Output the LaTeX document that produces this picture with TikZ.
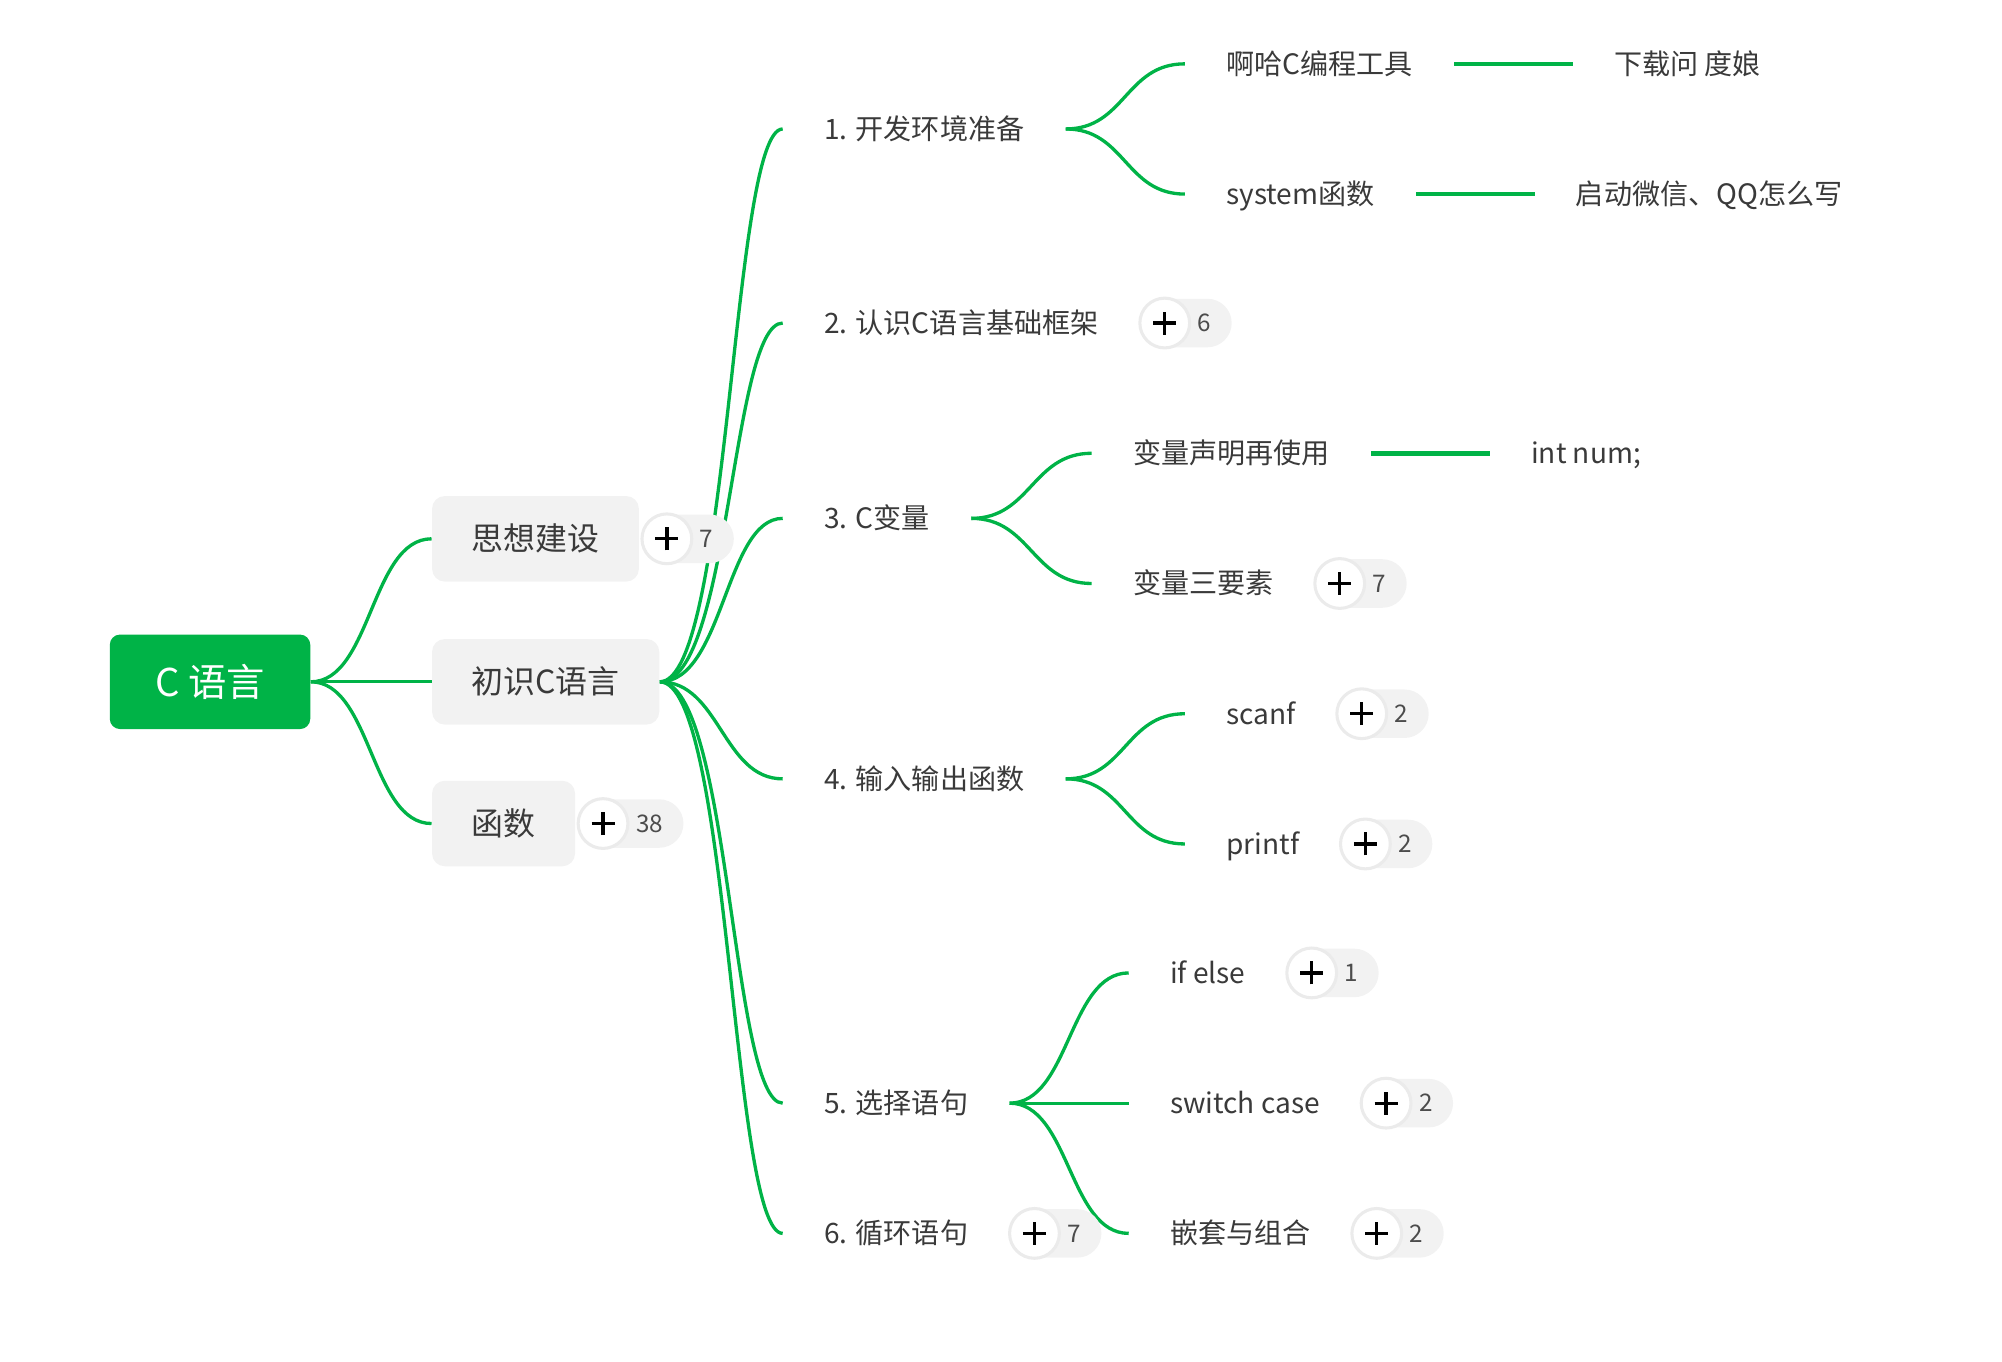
\documentclass[tikz,border=0pt]{standalone}
\usepackage{fontspec}
\setmainfont{Noto Sans CJK SC}
\usetikzlibrary{positioning,backgrounds}
\usepackage{xcolor}
\definecolor{mindgreen}{HTML}{00B347}
\definecolor{boxgray}{HTML}{F2F2F2}
\definecolor{textgray}{HTML}{3A3A3A}
\definecolor{ringgray}{HTML}{EBEBEB}

\begin{document}
\begin{tikzpicture}[x=0.5pt, y=-0.5pt, font=\fontsize{11pt}{13pt}\selectfont, text=textgray,
  root/.style={fill=mindgreen, text=white, rounded corners=4pt, minimum width=78.5pt,
               minimum height=37pt, font=\fontsize{15pt}{18pt}\selectfont},
  grp/.style={fill=boxgray, rounded corners=5pt, anchor=west, minimum height=33.5pt,
              inner xsep=15.5pt, font=\fontsize{12.5pt}{15pt}\selectfont},
  topic/.style={anchor=west, inner xsep=16pt, inner ysep=0pt, text height=9.6pt, text depth=1.4pt},
  badge/.style={fill=boxgray, rounded corners=9.5pt, minimum height=19pt, inner xsep=8pt,
                inner ysep=0pt, font=\fontsize{9.5pt}{11pt}\selectfont, text=black!70},
  plusdot/.style={circle, fill=white, draw=ringgray, line width=1.2pt, minimum size=19.5pt, inner sep=0pt,
                  path picture={\draw[black, line width=1.3pt]
                    ([xshift=-4.5pt]path picture bounding box.center) -- ([xshift=4.5pt]path picture bounding box.center)
                    ([yshift=-4.5pt]path picture bounding box.center) -- ([yshift=4.5pt]path picture bounding box.center);}},
  link/.style={draw=mindgreen, line width=1.3pt},
  hlink/.style={draw=mindgreen, line width=1.8pt}]

\useasboundingbox (0,0) rectangle (1568,1066);

% root and first level
\node[root] (root) at (164.5,534) {C 语言};
\node[grp] (sx) at (338,422) {思想建设};
\node[grp] (kc) at (338,534) {初识C语言};
\node[grp] (hs) at (338,645) {函数};

\node[badge, right=1pt of sx] (sxn) {\hspace{14.5pt}7};
\node[plusdot] (sxp) at ([xshift=9.75pt]sxn.west) {};
\node[badge, right=1pt of hs] (hsn) {\hspace{14.5pt}38};
\node[plusdot] (hsp) at ([xshift=9.75pt]hsn.west) {};

% second level
\node[topic] (t1) at (613,101) {1. 开发环境准备};
\node[topic] (t2) at (613,253) {2. 认识C语言基础框架};
\node[topic] (t3) at (613,406) {3. C变量};
\node[topic] (t4) at (613,610) {4. 输入输出函数};
\node[topic] (t5) at (613,864) {5. 选择语句};
\node[topic] (t6) at (613,966) {6. 循环语句};

\node[badge, right=0pt of t2] (t2n) {\hspace{14.5pt}6};
\node[plusdot] (t2p) at ([xshift=9.75pt]t2n.west) {};
\node[badge, right=0pt of t6] (t6n) {\hspace{14.5pt}7};
\node[plusdot] (t6p) at ([xshift=9.75pt]t6n.west) {};

% third level
\node[topic] (a1) at (928,50) {啊哈C编程工具};
\node[topic, right=46.5pt of a1] (a1x) {下载问 度娘};
\node[topic] (a2) at (928,152) {system函数};
\node[topic, right=46.5pt of a2] (a2x) {启动微信、QQ怎么写};

\node[topic] (c1) at (855,355) {变量声明再使用};
\node[topic, right=46.5pt of c1] (c1x) {int num;};
\node[topic] (c2) at (855,457) {变量三要素};
\node[badge, right=0pt of c2] (c2n) {\hspace{14.5pt}7};
\node[plusdot] (c2p) at ([xshift=9.75pt]c2n.west) {};

\node[topic] (d1) at (928,559) {scanf};
\node[badge, right=0pt of d1] (d1n) {\hspace{14.5pt}2};
\node[plusdot] (d1p) at ([xshift=9.75pt]d1n.west) {};
\node[topic] (d2) at (928,661) {printf};
\node[badge, right=0pt of d2] (d2n) {\hspace{14.5pt}2};
\node[plusdot] (d2p) at ([xshift=9.75pt]d2n.west) {};

\node[topic] (e1) at (884,762) {if else};
\node[badge, right=0pt of e1] (e1n) {\hspace{14.5pt}1};
\node[plusdot] (e1p) at ([xshift=9.75pt]e1n.west) {};
\node[topic] (e2) at (884,864) {switch case};
\node[badge, right=0pt of e2] (e2n) {\hspace{14.5pt}2};
\node[plusdot] (e2p) at ([xshift=9.75pt]e2n.west) {};
\node[topic] (e3) at (884,966) {嵌套与组合};
\node[badge, right=0pt of e3] (e3n) {\hspace{14.5pt}2};
\node[plusdot] (e3p) at ([xshift=9.75pt]e3n.west) {};

% links, behind the badges
\begin{scope}[on background layer]
\draw[link] (root.east) .. controls +(47.5,0) and +(-47.5,0) .. (sx.west);
\draw[link] (root.east) -- (kc.west);
\draw[link] (root.east) .. controls +(47.5,0) and +(-47.5,0) .. (hs.west);

\draw[link] (kc.east) .. controls +(55,0) and +(-40,0) .. (t1.west);
\draw[link] (kc.east) .. controls +(55,0) and +(-40,0) .. (t2.west);
\draw[link] (kc.east) .. controls +(50,0) and +(-45,0) .. (t3.west);
\draw[link] (kc.east) .. controls +(47,0) and +(-47,0) .. (t4.west);
\draw[link] (kc.east) .. controls +(55,0) and +(-40,0) .. (t5.west);
\draw[link] (kc.east) .. controls +(55,0) and +(-40,0) .. (t6.west);

\draw[link] (t1.east) .. controls +(46.5,0) and +(-46.5,0) .. (a1.west);
\draw[link] (t1.east) .. controls +(46.5,0) and +(-46.5,0) .. (a2.west);
\draw[link] (t3.east) .. controls +(46.5,0) and +(-46.5,0) .. (c1.west);
\draw[link] (t3.east) .. controls +(46.5,0) and +(-46.5,0) .. (c2.west);
\draw[link] (t4.east) .. controls +(46.5,0) and +(-46.5,0) .. (d1.west);
\draw[link] (t4.east) .. controls +(46.5,0) and +(-46.5,0) .. (d2.west);
\draw[link] (t5.east) .. controls +(47,0) and +(-47,0) .. (e1.west);
\draw[link] (t5.east) -- (e2.west);
\draw[link] (t5.east) .. controls +(47,0) and +(-47,0) .. (e3.west);

\draw[hlink] (a1.east) -- (a1x.west);
\draw[hlink] (a2.east) -- (a2x.west);
\draw[hlink] (c1.east) -- (c1x.west);
\end{scope}
\end{tikzpicture}
\end{document}
